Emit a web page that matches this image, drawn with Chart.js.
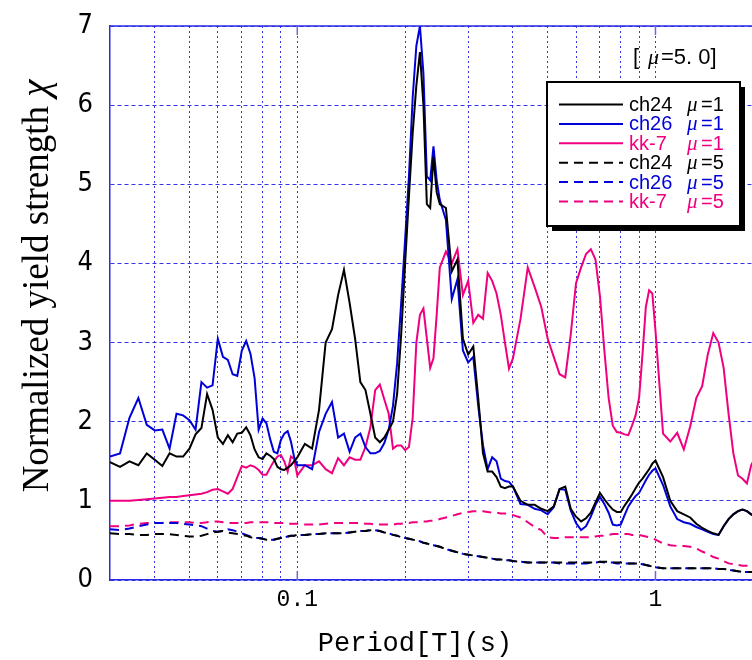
<!DOCTYPE html>
<html>
<head>
<meta charset="utf-8">
<script src="https://cdn.jsdelivr.net/npm/chart.js@4.4.1/dist/chart.umd.min.js"></script>
<style>
  html, body { margin: 0; padding: 0; background: #fff; overflow: hidden; }
  #grafico { display: block; }
</style>
</head>
<body>
<canvas id="grafico" width="752" height="660"></canvas>
<script>
// periodos (s)
const periods = [
  0.030,0.032,0.034,0.036,0.038,0.040,0.042,0.044,0.046,0.048,0.050,0.052,0.054,0.056,0.058,0.060,0.062,0.064,0.066,0.068,0.070,0.072,0.074,0.076,0.078,0.080,0.082,0.084,0.086,0.088,0.090,0.092,0.094,0.096,0.098,
  0.100,0.105,0.110,0.115,0.120,0.125,0.130,0.135,0.140,0.145,0.150,0.155,0.160,0.165,0.170,0.175,0.180,0.185,0.190,0.195,0.200,0.205,0.210,0.215,0.220,0.225,0.230,0.235,0.240,0.245,0.250,
  0.26,0.27,0.28,0.29,0.30,0.31,0.32,0.33,0.34,0.35,0.36,0.37,0.38,0.39,0.40,
  0.42,0.44,0.46,0.48,0.50,0.52,0.54,0.56,0.58,0.60,0.62,0.64,0.66,0.68,0.70,0.72,0.74,0.76,0.78,0.80,0.82,0.84,0.86,0.88,0.90,0.92,0.94,0.96,0.98,1.00,
  1.05,1.10,1.15,1.20,1.25,1.30,1.35,1.40,1.45,1.50,1.55,1.60,1.65,1.70,1.75,1.80,1.85,1.90
];

const ch24_mu1 = [
  1.49,1.43,1.50,1.45,1.60,1.52,1.44,1.60,1.56,1.56,1.66,1.84,1.92,2.35,2.15,1.80,1.72,1.83,1.74,1.85,1.86,1.93,1.83,1.65,1.55,1.53,1.60,1.57,1.53,1.43,1.40,1.39,1.42,1.45,1.50,
  1.55,1.72,1.66,2.15,3.00,3.17,3.60,3.92,3.50,3.05,2.50,2.40,2.10,1.80,1.74,1.80,1.90,2.00,2.35,3.10,4.00,4.85,5.65,6.25,6.67,6.00,4.75,4.70,5.35,4.90,4.75,
  4.70,3.90,4.05,3.05,2.85,2.95,2.30,1.60,1.37,1.37,1.30,1.18,1.16,1.18,1.18,
  1.00,0.95,0.95,0.90,0.87,0.93,1.15,1.18,0.90,0.80,0.74,0.78,0.85,0.98,1.10,1.02,0.95,0.89,0.86,0.86,0.94,1.01,1.08,1.16,1.23,1.28,1.34,1.40,1.47,1.51,
  1.30,1.00,0.87,0.83,0.79,0.71,0.66,0.62,0.59,0.57,0.68,0.77,0.83,0.87,0.89,0.87,0.83,0.80
];

const ch26_mu1 = [
  1.56,1.60,2.05,2.30,1.96,1.89,1.90,1.66,2.10,2.08,2.02,1.90,2.50,2.43,2.46,3.05,2.82,2.78,2.60,2.58,2.90,3.02,2.86,2.55,1.90,2.04,1.98,1.78,1.62,1.60,1.77,1.85,1.88,1.75,1.55,
  1.45,1.45,1.40,1.87,2.10,2.25,1.80,1.85,1.62,1.80,1.85,1.68,1.60,1.60,1.63,1.73,1.90,2.20,2.74,3.50,4.30,5.10,6.10,6.75,7.00,6.40,5.10,5.05,5.48,5.05,4.80,
  4.55,3.55,3.80,2.90,2.75,2.82,2.20,1.70,1.40,1.55,1.50,1.28,1.25,1.24,1.18,
  0.96,0.95,0.90,0.88,0.83,0.92,1.15,1.14,0.88,0.72,0.63,0.68,0.80,0.95,1.05,0.96,0.85,0.70,0.69,0.70,0.82,0.93,1.00,1.06,1.10,1.18,1.26,1.33,1.38,1.41,
  1.20,0.93,0.77,0.73,0.71,0.67,0.64,0.61,0.58,0.57,0.68,0.77,0.83,0.87,0.89,0.87,0.83,0.80
];

const kk7_mu1 = [
  1.00,1.00,1.00,1.01,1.02,1.03,1.04,1.05,1.05,1.06,1.07,1.08,1.09,1.11,1.14,1.15,1.12,1.09,1.15,1.30,1.44,1.42,1.45,1.43,1.39,1.33,1.33,1.42,1.50,1.56,1.58,1.50,1.37,1.56,1.53,
  1.32,1.45,1.45,1.50,1.40,1.35,1.54,1.45,1.55,1.52,1.52,1.68,1.93,2.40,2.47,2.28,2.10,1.66,1.70,1.70,1.64,1.68,2.05,3.00,3.35,3.43,3.05,2.68,2.80,3.35,3.95,
  4.15,4.00,4.18,3.60,3.78,3.25,3.35,3.30,3.88,3.78,3.62,3.35,3.00,2.67,2.80,
  3.30,3.95,3.70,3.45,3.05,2.82,2.60,2.56,3.10,3.75,3.95,4.12,4.18,4.05,3.58,2.90,2.30,1.95,1.87,1.86,1.84,1.83,1.95,2.08,2.30,2.85,3.45,3.66,3.62,3.15,
  1.85,1.75,1.86,1.65,1.94,2.30,2.45,2.85,3.12,3.00,2.68,2.10,1.60,1.32,1.28,1.22,1.45,1.55
];

const ch24_mu5 = [
  0.59,0.58,0.58,0.57,0.57,0.58,0.58,0.58,0.57,0.56,0.55,0.55,0.56,0.58,0.60,0.61,0.62,0.60,0.59,0.58,0.57,0.56,0.54,0.53,0.53,0.52,0.51,0.51,0.51,0.52,0.53,0.54,0.55,0.56,0.56,
  0.57,0.57,0.58,0.58,0.59,0.59,0.59,0.59,0.60,0.61,0.62,0.62,0.63,0.63,0.62,0.60,0.59,0.57,0.56,0.54,0.53,0.52,0.51,0.50,0.49,0.47,0.46,0.45,0.44,0.43,0.42,
  0.39,0.37,0.35,0.33,0.32,0.31,0.30,0.29,0.28,0.27,0.26,0.26,0.25,0.25,0.24,
  0.23,0.22,0.22,0.22,0.22,0.22,0.22,0.22,0.22,0.22,0.22,0.22,0.22,0.22,0.23,0.23,0.23,0.22,0.22,0.22,0.21,0.21,0.21,0.21,0.21,0.20,0.19,0.18,0.17,0.16,
  0.15,0.15,0.15,0.15,0.15,0.15,0.15,0.15,0.15,0.14,0.14,0.13,0.12,0.11,0.10,0.10,0.10,0.10
];

const ch26_mu5 = [
  0.64,0.63,0.65,0.68,0.70,0.72,0.72,0.72,0.72,0.71,0.70,0.69,0.68,0.65,0.62,0.61,0.62,0.64,0.63,0.61,0.59,0.57,0.55,0.53,0.53,0.52,0.51,0.51,0.51,0.52,0.53,0.54,0.55,0.56,0.56,
  0.57,0.57,0.58,0.58,0.59,0.59,0.59,0.59,0.60,0.61,0.62,0.62,0.63,0.63,0.62,0.60,0.59,0.57,0.56,0.54,0.53,0.52,0.51,0.50,0.49,0.47,0.46,0.45,0.44,0.43,0.42,
  0.39,0.37,0.35,0.33,0.32,0.31,0.30,0.29,0.28,0.27,0.26,0.26,0.25,0.25,0.24,
  0.23,0.22,0.22,0.22,0.22,0.22,0.21,0.21,0.21,0.21,0.21,0.21,0.22,0.22,0.23,0.22,0.22,0.22,0.21,0.21,0.21,0.21,0.21,0.21,0.21,0.20,0.19,0.18,0.17,0.16,
  0.15,0.15,0.15,0.15,0.15,0.15,0.15,0.15,0.15,0.14,0.14,0.13,0.12,0.11,0.10,0.10,0.10,0.10
];

const kk7_mu5 = [
  0.68,0.68,0.69,0.71,0.72,0.72,0.72,0.73,0.73,0.73,0.73,0.72,0.72,0.73,0.74,0.74,0.73,0.72,0.72,0.72,0.72,0.72,0.73,0.73,0.73,0.73,0.73,0.73,0.72,0.72,0.72,0.72,0.71,0.71,0.71,
  0.71,0.70,0.70,0.70,0.71,0.72,0.72,0.72,0.72,0.72,0.72,0.71,0.71,0.70,0.70,0.70,0.70,0.70,0.71,0.71,0.72,0.72,0.73,0.73,0.73,0.74,0.74,0.75,0.75,0.76,0.77,
  0.79,0.81,0.83,0.85,0.86,0.87,0.87,0.87,0.86,0.85,0.85,0.84,0.84,0.83,0.82,
  0.79,0.73,0.67,0.63,0.54,0.53,0.53,0.54,0.54,0.54,0.54,0.54,0.54,0.55,0.56,0.56,0.57,0.58,0.58,0.58,0.58,0.58,0.57,0.57,0.57,0.56,0.55,0.54,0.53,0.51,
  0.46,0.44,0.43,0.43,0.42,0.40,0.36,0.33,0.29,0.27,0.24,0.21,0.20,0.19,0.18,0.18,0.17,0.17
];

// grade do eixo x
const xGridValues = [0.04,0.05,0.06,0.07,0.08,0.09,0.1,0.2,0.3,0.4,0.5,0.6,0.7,0.8,0.9,1];
const xLabelValues = [0.1, 1];
const yTicks = [0,1,2,3,4,5,6,7];

const seriesNames = ['ch24', 'ch26', 'kk-7', 'ch24', 'ch26', 'kk-7'];
const seriesMu = ['1', '1', '1', '5', '5', '5'];

const BLACK = '#000000';
const BLUE = '#0000d8';
const PINK = '#f0007f';
const GRID = 'rgba(20,20,230,0.85)';
const SANS = "'Liberation Sans', Arial, sans-serif";
const SERIF = "'Liberation Serif', 'Times New Roman', serif";
const MONO = "'Liberation Mono', 'DejaVu Sans Mono', monospace";

function pontos(valores) {
  return periods.map((p, i) => ({ x: p, y: valores[i] }));
}

function linha(label, valores, cor, tracejado) {
  return {
    label: label,
    data: pontos(valores),
    borderColor: cor,
    backgroundColor: cor,
    borderWidth: 2,
    borderDash: tracejado ? [9, 6] : [],
    pointRadius: 0,
    tension: 0,
    fill: false
  };
}

const datasets = [
  linha('ch24 μ=1', ch24_mu1, BLACK, false),
  linha('ch26 μ=1', ch26_mu1, BLUE, false),
  linha('kk-7 μ=1', kk7_mu1, PINK, false),
  linha('ch24 μ=5', ch24_mu5, BLACK, true),
  linha('ch26 μ=5', ch26_mu5, BLUE, true),
  linha('kk-7 μ=5', kk7_mu5, PINK, true)
];

// desenha bordas, legenda e titulos
const extras = {
  id: 'extras',
  afterDraw(chart) {
    const ctx = chart.ctx;
    const area = chart.chartArea;
    const xs = chart.scales.x;

    ctx.save();
    // borda de cima
    ctx.strokeStyle = '#2a2ae6';
    ctx.lineWidth = 1.5;
    ctx.beginPath();
    ctx.moveTo(area.left, area.top);
    ctx.lineTo(area.right, area.top);
    ctx.stroke();

    // marcas principais
    ctx.strokeStyle = '#6a6ae8';
    xLabelValues.forEach(v => {
      const px = xs.getPixelForValue(v);
      ctx.beginPath();
      ctx.moveTo(px, area.bottom);
      ctx.lineTo(px, area.bottom - 9);
      ctx.moveTo(px, area.top);
      ctx.lineTo(px, area.top + 9);
      ctx.stroke();
    });

    // anotacao [ mu = 5.0 ]
    ctx.fillStyle = '#000';
    ctx.textAlign = 'left';
    ctx.textBaseline = 'alphabetic';
    ctx.font = '22px ' + SANS;
    ctx.fillText('[', 633, 64);
    ctx.font = 'italic 22px ' + SERIF;
    ctx.fillText('μ', 648, 64);
    ctx.font = '22px ' + SANS;
    ctx.fillText('=5. 0]', 661, 64);

    // legenda
    const bx = 547, by = 82, bw = 193, bh = 144;
    ctx.fillStyle = '#000';
    ctx.fillRect(bx + 5, by + 5, bw, bh);
    ctx.fillStyle = '#fff';
    ctx.fillRect(bx, by, bw, bh);
    ctx.strokeStyle = '#000';
    ctx.lineWidth = 2;
    ctx.strokeRect(bx, by, bw, bh);

    ctx.textAlign = 'left';
    ctx.textBaseline = 'middle';
    chart.data.datasets.forEach((ds, i) => {
      const y = 104.5 + i * 19.4;
      ctx.strokeStyle = ds.borderColor;
      ctx.lineWidth = 2;
      ctx.setLineDash(ds.borderDash);
      ctx.beginPath();
      ctx.moveTo(559, y);
      ctx.lineTo(623, y);
      ctx.stroke();
      ctx.setLineDash([]);
      ctx.fillStyle = ds.borderColor;
      ctx.font = '20px ' + SANS;
      ctx.fillText(seriesNames[i], 629, y + 1);
      ctx.font = 'italic 21px ' + SERIF;
      ctx.fillText('μ', 687, y + 1);
      ctx.font = '20px ' + SANS;
      ctx.fillText('=' + seriesMu[i], 701, y + 1);
    });

    // titulo eixo x
    ctx.fillStyle = '#000';
    ctx.font = '27px ' + MONO;
    ctx.textAlign = 'center';
    ctx.textBaseline = 'alphabetic';
    ctx.fillText('Period[T](s)', 415, 651);

    // titulo eixo y
    ctx.translate(38, 286);
    ctx.rotate(-Math.PI / 2);
    const t1 = 'Normalized yield strength ';
    const t2 = 'χ';
    ctx.font = '37px ' + SERIF;
    const w1 = ctx.measureText(t1).width;
    ctx.font = 'italic 39px ' + SERIF;
    const w2 = ctx.measureText(t2).width;
    const x0 = -(w1 + w2) / 2;
    ctx.textAlign = 'left';
    ctx.textBaseline = 'middle';
    ctx.font = '37px ' + SERIF;
    ctx.fillText(t1, x0, 0);
    ctx.font = 'italic 39px ' + SERIF;
    ctx.fillText(t2, x0 + w1, 0);
    ctx.restore();
  }
};

const ctx = document.getElementById('grafico').getContext('2d');
new Chart(ctx, {
  type: 'line',
  data: { datasets: datasets },
  options: {
    responsive: false,
    animation: false,
    devicePixelRatio: 1,
    layout: { padding: { top: 26, left: 0, right: 0, bottom: 0 } },
    plugins: {
      legend: { display: false },
      tooltip: { enabled: false }
    },
    scales: {
      x: {
        type: 'logarithmic',
        min: 0.03,
        max: 1.86,
        afterBuildTicks: (scale) => {
          scale.ticks = xGridValues.map(v => ({ value: v }));
        },
        afterFit: (scale) => {
          scale.height = 80;
          scale.paddingLeft = 0;
          scale.paddingRight = 0;
        },
        ticks: {
          autoSkip: false,
          maxRotation: 0,
          padding: 6,
          color: '#000',
          font: { family: MONO, size: 23 },
          callback: (v) => xLabelValues.includes(v) ? String(v) : ''
        },
        grid: { color: GRID, lineWidth: 1, drawTicks: false },
        border: { display: true, color: '#2a2ae6', width: 1.5, dash: [2, 3] }
      },
      y: {
        type: 'linear',
        min: 0,
        max: 7,
        afterBuildTicks: (scale) => {
          scale.ticks = yTicks.map(v => ({ value: v }));
        },
        afterFit: (scale) => {
          scale.width = 110;
          scale.paddingTop = 0;
          scale.paddingBottom = 0;
        },
        ticks: {
          padding: 17,
          color: '#000',
          font: { family: "'Liberation Sans Narrow', 'DejaVu Sans Condensed', 'Liberation Sans', sans-serif", size: 27 }
        },
        grid: { color: GRID, lineWidth: 1, drawTicks: false },
        border: { display: true, color: '#2a2ae6', width: 1.5, dash: [4, 3] }
      }
    }
  },
  plugins: [extras]
});
</script>
</body>
</html>
